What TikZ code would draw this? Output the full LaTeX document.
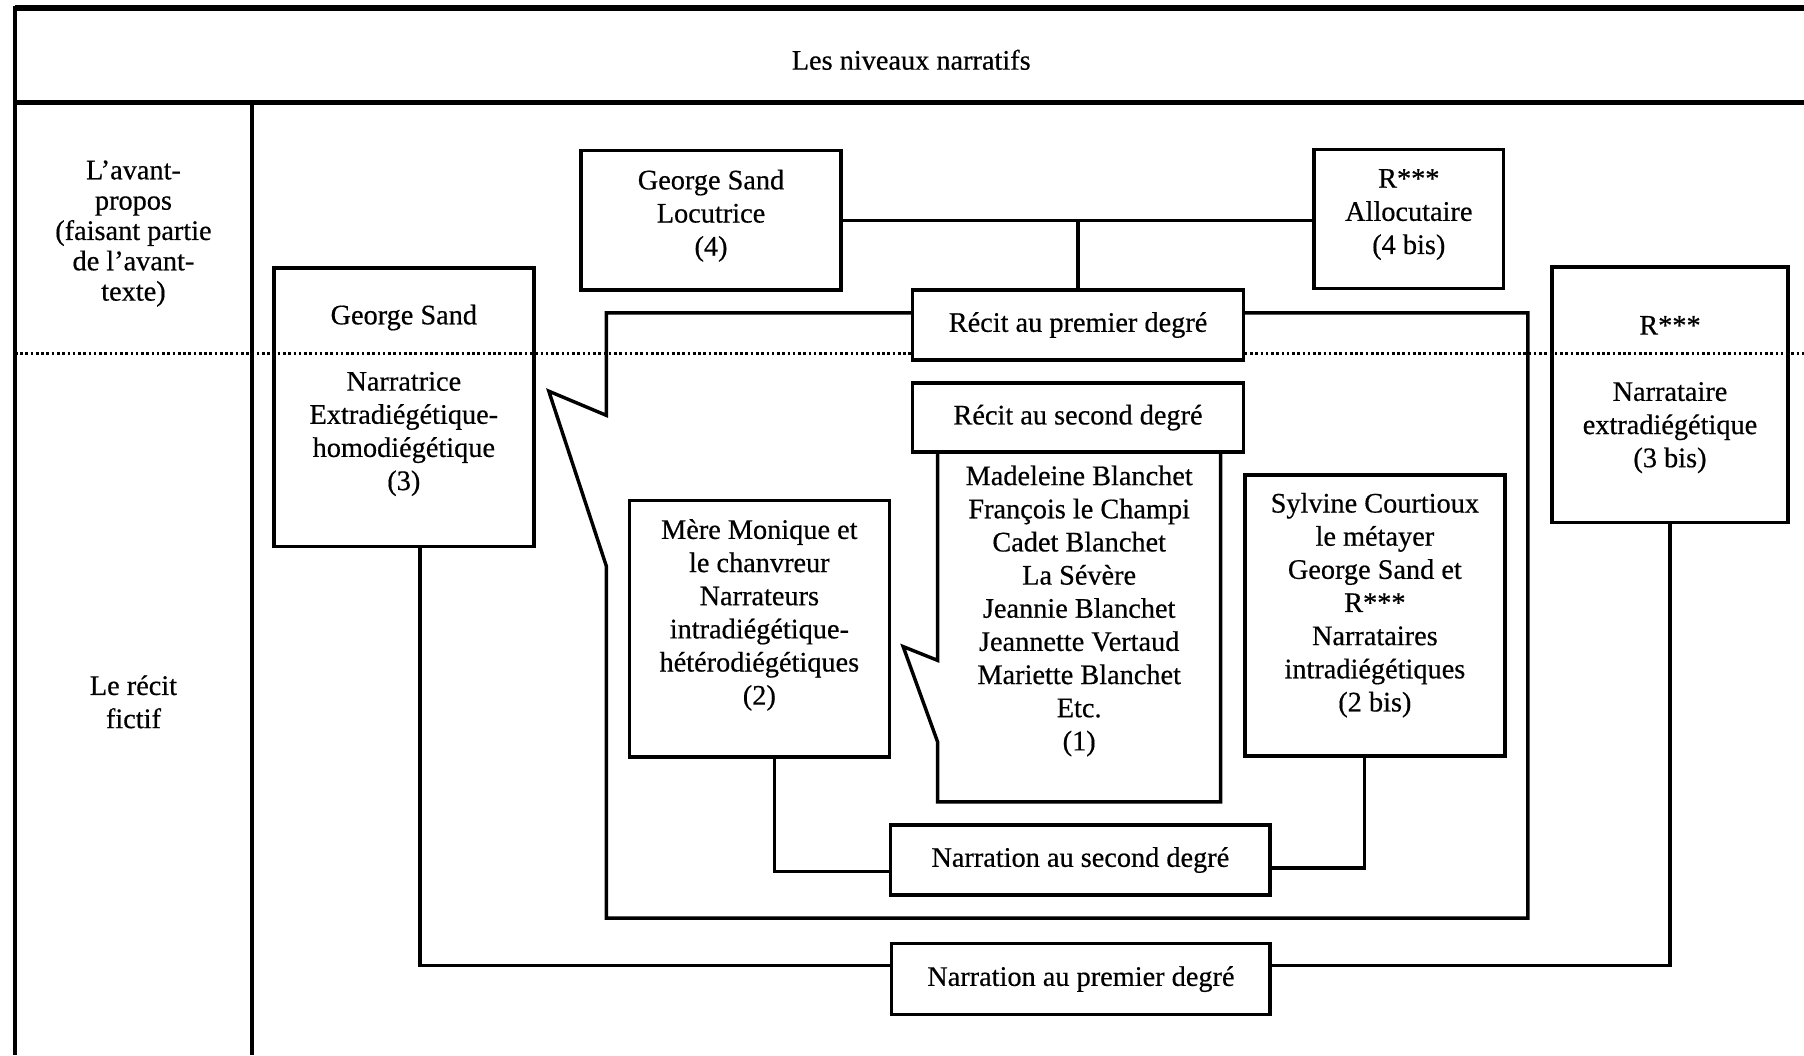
\documentclass[tikz,border=0pt]{standalone}
\usepackage{fontspec}
\setmainfont{Liberation Serif}[FakeBold=0.5]
\usetikzlibrary{calc}
\tikzset{
  texte/.style={align=center, inner sep=0pt, font=\fontsize{14}{16.4}\selectfont},
  boite/.style={texte, draw, line width=1.7pt},
  lien/.style={line width=1.7pt, line join=miter},
}
\begin{document}
\begin{tikzpicture}[x=0.02cm, y=-0.02cm]
                \useasboundingbox (0,0) rectangle (1568,917);
                \draw[line width=3pt] (13,7) -- (1568,7); \draw[line width=2.6pt] (13,89) -- (1568,89);
                \draw[line width=2pt] (13,5.5) -- (13,917); \draw[line width=2pt] (219,89) -- (219,917);
                \draw[line width=1.5pt, dash pattern=on 1.3pt off 1.3pt] (13,307) -- (1568,307);

                \node[texte] (titre) at (792,52) {Les niveaux narratifs};
                \node[texte, font=\fontsize{14}{15}\selectfont] (avant) at (116,203) {L’avant-\\propos\\(faisant partie\\de l’avant-\\texte)};
                \node[texte] (fictif) at (116,610) {Le récit\\fictif};

                \draw[lien] (793,272) -- (527,272) -- (527,361) -- (477,340) -- (527,492) -- (527,798) -- (1328,798) -- (1328,272) -- (1081,272);
                \draw[lien] (815,393) -- (815,574) -- (785,562) -- (815,645) -- (815,697) -- (1061,697) -- (1061,393);

                \node[boite, minimum width=4.52cm, minimum height=4.84cm] (gs3) at (351,354) {};
                \node[texte] (gs3t) at ($(gs3)+(0,-6)$) {George Sand\\[16.4pt]Narratrice\\Extradiégétique-\\homodiégétique\\(3)};
                \node[boite, minimum width=4.52cm, minimum height=2.42cm] (gs4) at (618,191.5) {};
                \node[texte] (gs4t) at ($(gs4)+(0,-4)$) {George Sand\\Locutrice\\(4)};
                \node[boite, minimum width=3.3cm, minimum height=2.42cm] (r4) at (1224.5,190.5) {};
                \node[texte] (r4t) at ($(r4)+(0,-4)$) {R***\\Allocutaire\\(4 bis)};
                \node[boite, fill=white, minimum width=5.76cm, minimum height=1.22cm] (recit1) at (937,282.5) {Récit au premier degré};
                \node[boite, minimum width=5.76cm, minimum height=1.2cm] (recit2) at (937,363) {Récit au second degré};
                \node[texte] (pers) at (938,531) {Madeleine Blanchet\\François le Champi\\Cadet Blanchet\\La Sévère\\Jeannie Blanchet\\Jeannette Vertaud\\Mariette Blanchet\\Etc.\\(1)};
                \node[boite, minimum width=4.52cm, minimum height=4.46cm] (mere) at (660,546.5) {};
                \node[texte] (meret) at ($(mere)+(0,-12)$) {Mère Monique et\\le chanvreur\\Narrateurs\\intradiégétique-\\hétérodiégétiques\\(2)};
                \node[boite, minimum width=4.52cm, minimum height=4.88cm] (sylv) at (1195,535) {};
                \node[texte] (sylvt) at ($(sylv)+(0,-9)$) {Sylvine Courtioux\\le métayer\\George Sand et\\R***\\Narrataires\\intradiégétiques\\(2 bis)};
                \node[boite, minimum width=6.6cm, minimum height=1.22cm] (n2) at (939,747.5) {Narration au second degré};
                \node[boite, minimum width=6.58cm, minimum height=1.24cm] (n1) at (939.5,851) {Narration au premier degré};
                \node[boite, minimum width=4.1cm, minimum height=4.44cm] (r3) at (1451.5,343) {R***\\[16.4pt]Narrataire\\extradiégétique\\(3 bis)};

                \draw[lien] (gs4.east) -- (gs4.east -| r4.west); \draw[lien] (recit1.north) -- (recit1.north |- gs4.east);
                \draw[lien] ($(mere.south)+(13,0)$) |- ($(n2.west)+(0,10)$); \draw[lien] ($(sylv.south)+(-9,0)$) |- ($(n2.east)+(0,7)$);
                \draw[lien] ($(gs3.south)+(14,0)$) |- ($(n1.west)+(0,-12)$); \draw[lien] (r3.south) |- ($(n1.east)+(0,-12)$);
            \end{tikzpicture}
\end{document}
